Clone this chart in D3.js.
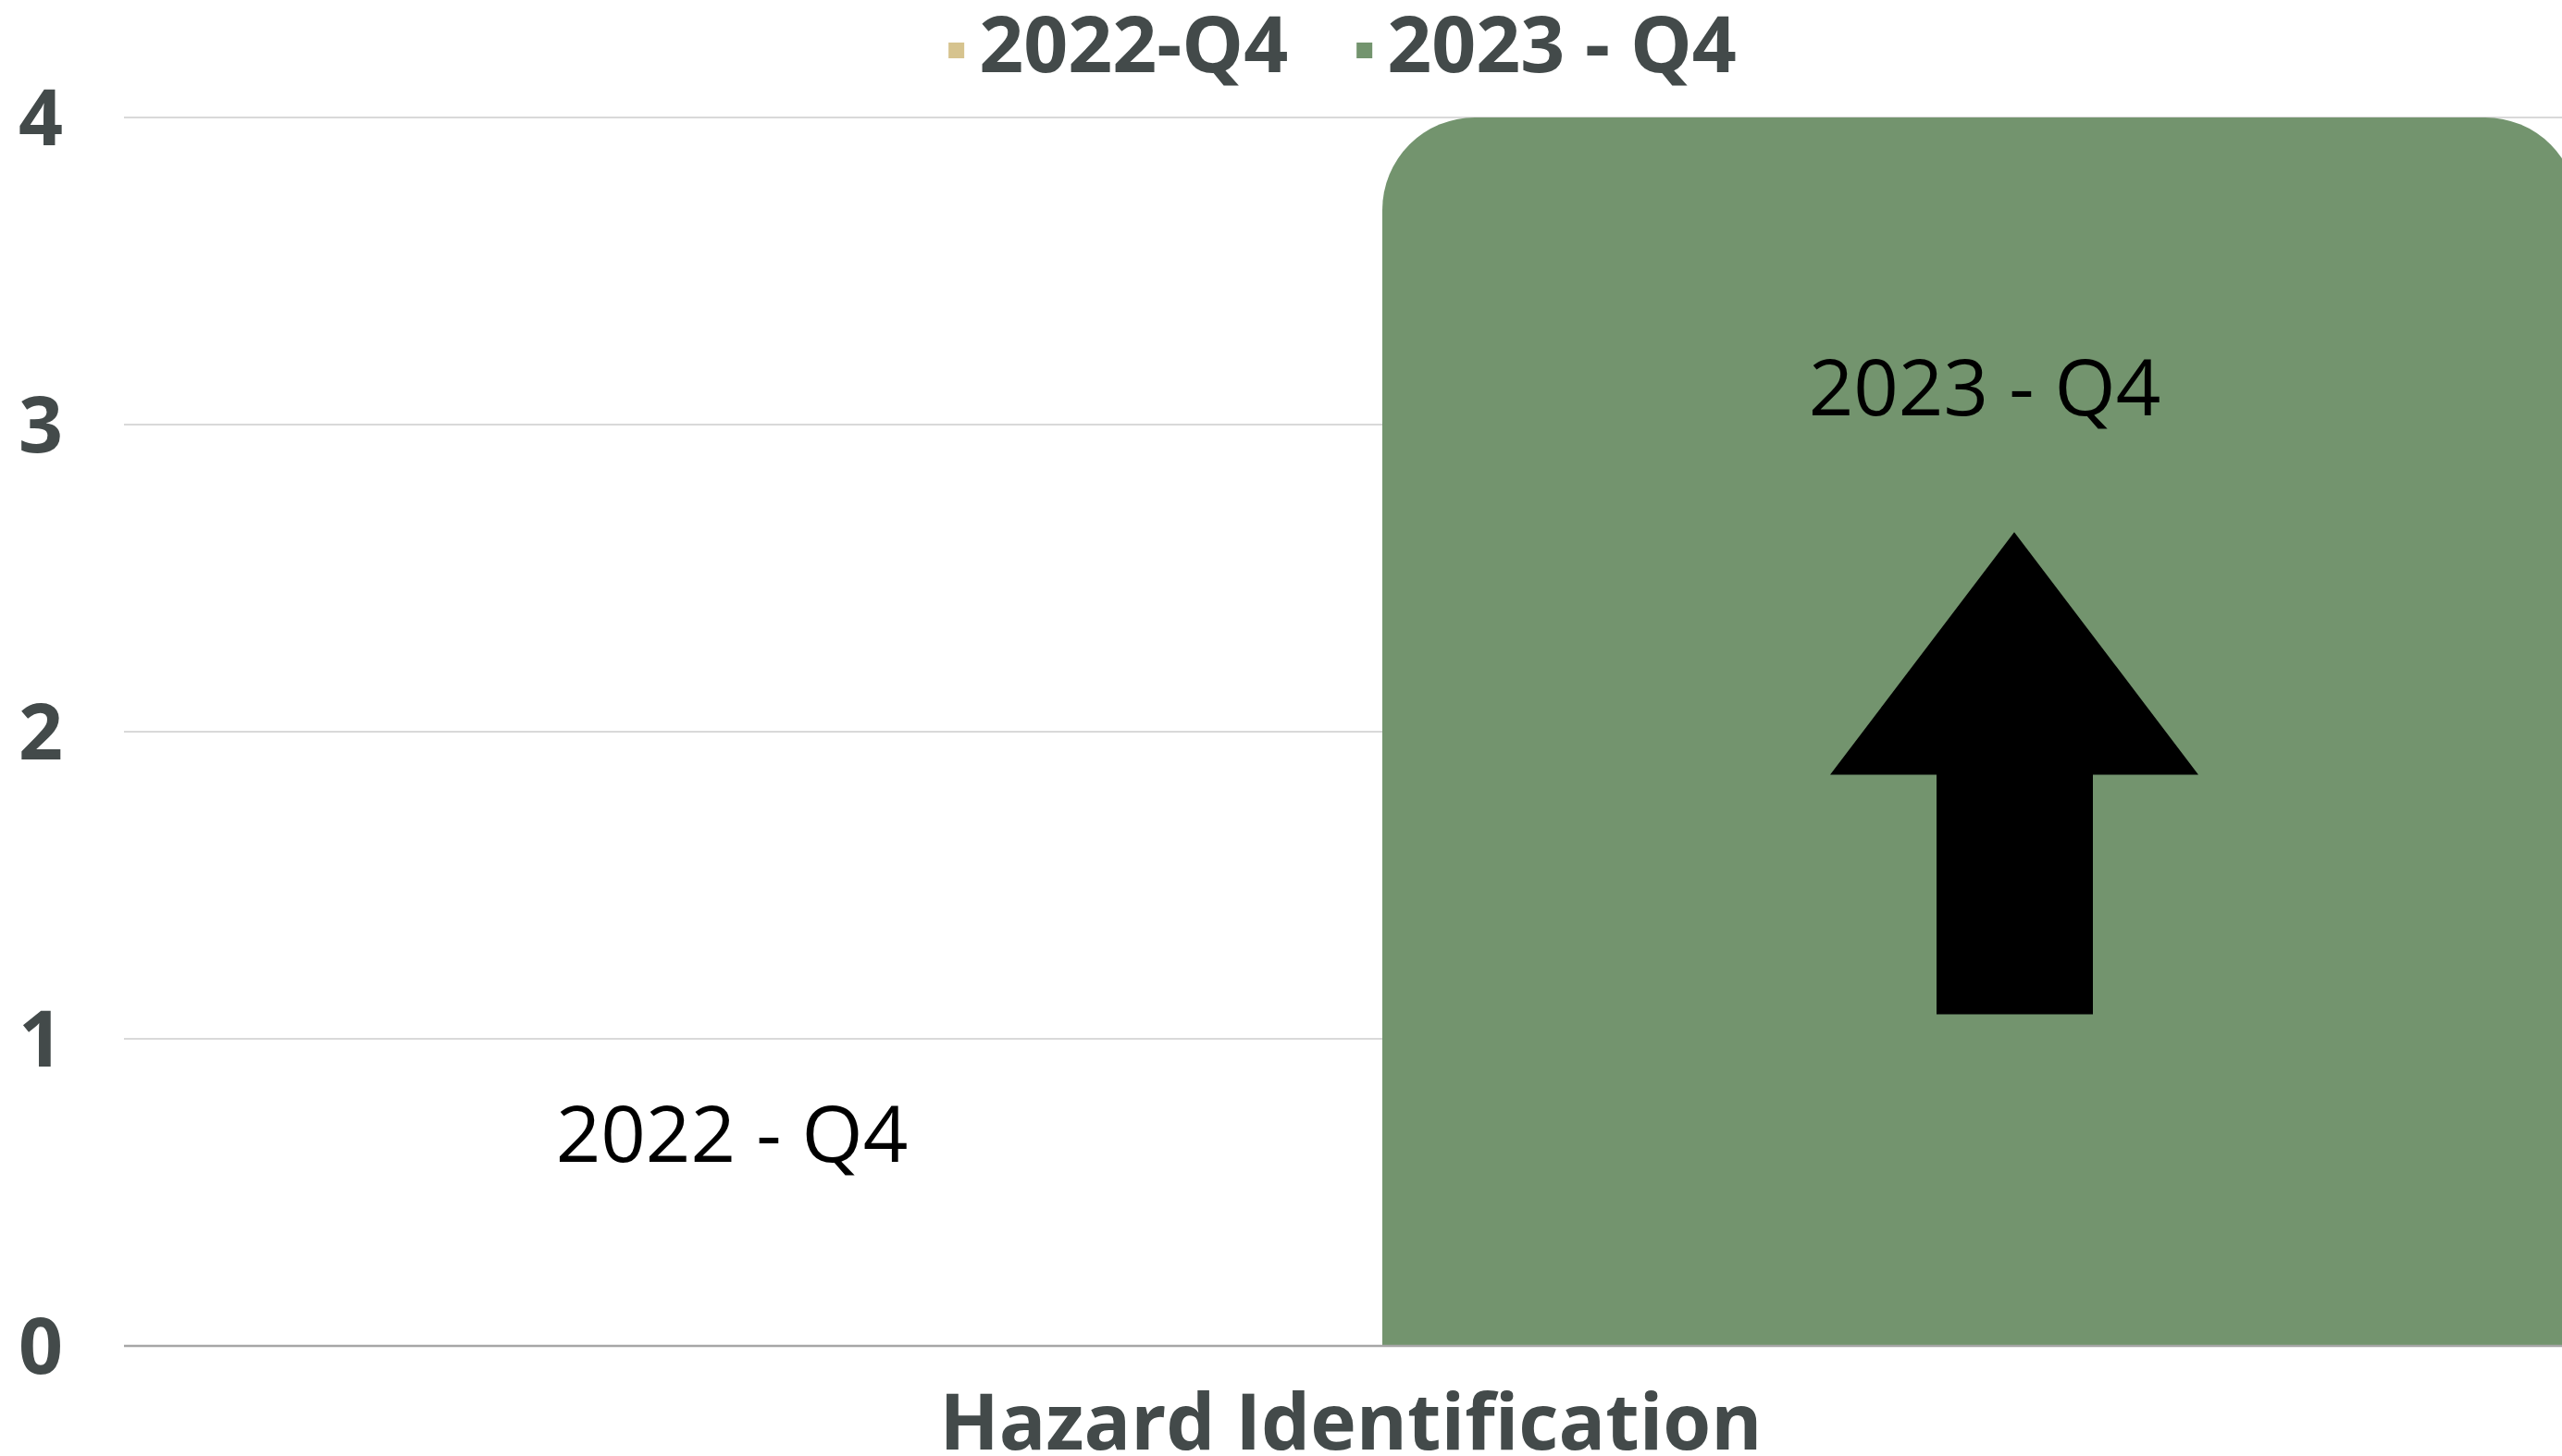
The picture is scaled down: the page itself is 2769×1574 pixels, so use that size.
<!DOCTYPE html>
<html lang="en">
<head>
  <meta charset="UTF-8" />
  <title>Hazard Identification</title>
  <style>
    body { margin: 0; background: #fff; }
    #container { width: 2769px; height: 1574px; }
    text { font-family: "Open Sans", "Noto Sans", sans-serif; }
  </style>
</head>
<body>
  <div id="container"></div>
  <script src="https://cdn.jsdelivr.net/npm/d3@7"></script>
  <script>
    const categories = ['Hazard Identification'];
    const seriesNames = ['2022-Q4', '2023 - Q4'];
    const seriesLabels = ['2022 - Q4', '2023 - Q4'];
    const values = [0, 4];
    const yTicks = [0, 1, 2, 3, 4];
    const colors = ['#d6c38e', '#73946e'];

    const W = 2769, H = 1574;
    const margin = { top: 127, right: -17, bottom: 119, left: 134 };
    const inkGray = '#434a4a';

    const svg = d3.select('#container').append('svg')
      .attr('width', W).attr('height', H);

    const x0 = d3.scaleBand().domain(categories)
      .range([margin.left, W - margin.right]).padding(0);
    const x1 = d3.scaleBand().domain(seriesNames)
      .range([0, x0.bandwidth()]).paddingInner(0.05).paddingOuter(0);
    const y = d3.scaleLinear().domain([0, 4])
      .range([H - margin.bottom, margin.top]);

    // gridlines
    svg.append('g').selectAll('line')
      .data(yTicks.filter(d => d > 0))
      .enter().append('line')
      .attr('x1', margin.left).attr('x2', W)
      .attr('y1', d => y(d)).attr('y2', d => y(d))
      .attr('stroke', '#d9d9d9').attr('stroke-width', 2);

    // y tick labels
    svg.append('g').selectAll('text')
      .data(yTicks)
      .enter().append('text')
      .attr('x', 68).attr('y', d => y(d))
      .attr('dy', '0.36em')
      .attr('text-anchor', 'end')
      .attr('font-size', 84).attr('font-weight', 700)
      .attr('fill', inkGray)
      .text(d => d);

    // bars with rounded top corners
    const r = 100;
    function topRounded(x, yTop, w, yBase) {
      const rr = Math.min(r, w / 2, yBase - yTop);
      if (rr <= 0) return '';
      return `M${x},${yBase}V${yTop + rr}A${rr},${rr} 0 0 1 ${x + rr},${yTop}` +
        `H${x + w - rr}A${rr},${rr} 0 0 1 ${x + w},${yTop + rr}V${yBase}Z`;
    }
    const barG = svg.append('g').attr('transform', `translate(${x0(categories[0])},0)`);
    barG.selectAll('path')
      .data(values)
      .enter().append('path')
      .attr('d', (d, i) => topRounded(x1(seriesNames[i]), y(d), x1.bandwidth(), y(0)))
      .attr('fill', (d, i) => colors[i]);

    // baseline
    svg.append('line')
      .attr('x1', margin.left).attr('x2', W)
      .attr('y1', y(0)).attr('y2', y(0))
      .attr('stroke', '#a6a6a6').attr('stroke-width', 2.5);

    // data labels
    const labelAt = [0.6, 3.03];
    barG.selectAll('text')
      .data(values)
      .enter().append('text')
      .attr('x', (d, i) => x1(seriesNames[i]) + x1.bandwidth() / 2 + (i === 0 ? 11 : 5))
      .attr('y', (d, i) => y(labelAt[i]))
      .attr('text-anchor', 'middle')
      .attr('font-size', 85)
      .attr('fill', '#000')
      .text((d, i) => seriesLabels[i]);

    // up arrow on 2023 bar
    const ax = x0(categories[0]) + x1(seriesNames[1]) + x1.bandwidth() / 2 + 37;
    const arrow = [
      [ax, y(2.65)], [ax + 199, y(1.86)], [ax + 85, y(1.86)], [ax + 85, y(1.08)],
      [ax - 84, y(1.08)], [ax - 84, y(1.86)], [ax - 199, y(1.86)]
    ];
    svg.append('path')
      .attr('d', d3.line()(arrow) + 'Z')
      .attr('fill', '#000');

    // category axis label
    svg.append('text')
      .attr('x', x0(categories[0]) + x0.bandwidth() / 2)
      .attr('y', 1567)
      .attr('text-anchor', 'middle')
      .attr('font-size', 84).attr('font-weight', 700)
      .attr('fill', inkGray)
      .text(categories[0]);

    // legend
    const legend = svg.append('g');
    let lx = 0;
    seriesNames.forEach((name, i) => {
      const g = legend.append('g').attr('transform', `translate(${lx},0)`);
      g.append('rect').attr('x', 0).attr('y', 46).attr('width', 17).attr('height', 17)
        .attr('fill', colors[i]);
      const t = g.append('text').attr('x', 33).attr('y', 78)
        .attr('font-size', 84).attr('font-weight', 700)
        .attr('fill', inkGray).text(name);
      lx += 33 + t.node().getComputedTextLength() + 74;
    });
    const lw = lx - 74;
    legend.attr('transform', `translate(${x0(categories[0]) + x0.bandwidth() / 2 - lw / 2 - 9},0)`);
  </script>
</body>
</html>
